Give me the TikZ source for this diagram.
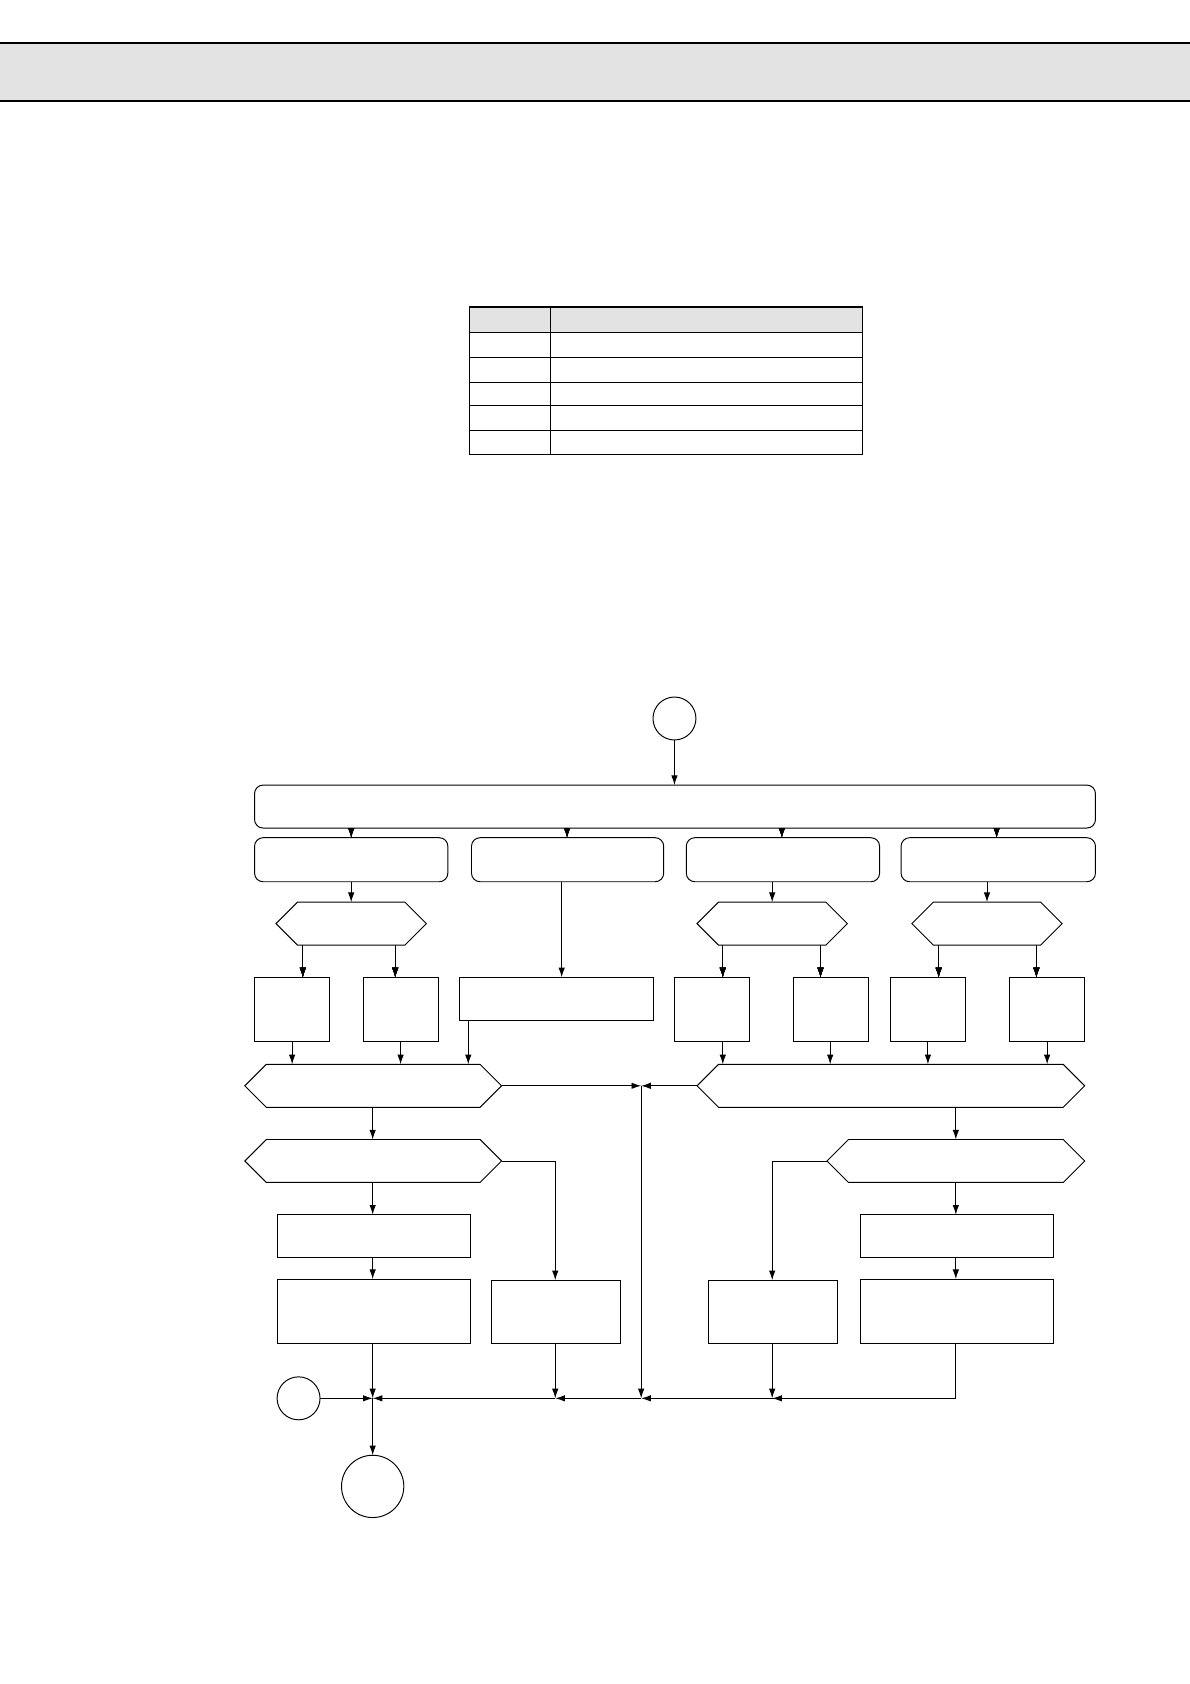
\documentclass[tikz,border=0pt]{standalone}
\usetikzlibrary{arrows.meta}
\tikzset{
 ln/.style={line width=0.9pt},
 ar/.style={ln,-{Latex[length=9pt,width=6pt]}},
 bx/.style={ln,draw},
 rbx/.style={ln,draw,rounded corners=8pt},
}
\newcommand{\hexa}[4]{\draw[ln] (#1,{(#3+#4)/2}) -- (#1+20,#3) -- (#2-20,#3) -- (#2,{(#3+#4)/2}) -- (#2-20,#4) -- (#1+20,#4) -- cycle;}
\newcommand{\rect}[5][bx]{\draw[#1] (#2,#4) rectangle (#3,#5);}
\begin{document}
\begin{tikzpicture}[x=1pt,y=-1pt]
\useasboundingbox (0,0) rectangle (1108,1568);
% header
\fill[gray!22] (0,40) rectangle (1108,94);
\draw[line width=1.3pt] (0,40) -- (1108,40) (0,94) -- (1108,94);
% table
\fill[gray!22] (437,286) rectangle (803,310);
\draw[line width=1.3pt] (437,286) rectangle (803,423);
\draw[ln] (513,286) -- (513,423);
\foreach \y in {310,333,356,378,401} \draw[ln] (437,\y) -- (803,\y);
% start
\draw[ln] (628,669) circle (20);
\draw[ar] (628,689) -- (628,731);
\rect[rbx]{237}{1020}{731}{771}
\foreach \a/\b in {237/417,439/618,639/819,839/1020} \rect[rbx]{\a}{\b}{780}{821}
\foreach \x in {327,528,728,928} \draw[ar] (\x,771) -- (\x,780);
\hexa{257}{397}{840}{880}
\hexa{649}{789}{840}{880}
\hexa{849}{989}{840}{880}
\foreach \x in {327,719,919} \draw[ar] (\x,821) -- (\x,840);
\rect{428}{608}{910}{950}
\draw[ar] (523,821) -- (523,910);
\foreach \a/\b in {237/307,338/408,628/698,739/809,829/899,940/1010} \rect{\a}{\b}{910}{970}
\foreach \x in {282,368,673,764,874,965} \draw[ar] (\x,880) -- (\x,910);
\hexa{228}{467}{991}{1031}
\hexa{649}{1010}{991}{1031}
\foreach \x in {272,373,673,773,864,975} \draw[ar] (\x,970) -- (\x,991);
\draw[ar] (436,950) -- (436,991);
\draw[ar] (467,1011) -- (597,1011);
\draw[ar] (649,1011) -- (597,1011);
\draw[ar] (597,1011) -- (597,1302);
% left column
\draw[ar] (347,1031) -- (347,1061);
\hexa{228}{467}{1061}{1101}
\draw[ar] (467,1081) -- (517,1081) -- (517,1192);
\rect{458}{578}{1192}{1251}
\draw[ar] (347,1101) -- (347,1131);
\rect{258}{438}{1131}{1171}
\draw[ar] (347,1171) -- (347,1191);
\rect{258}{438}{1191}{1251}
% right column
\draw[ar] (890,1031) -- (890,1061);
\hexa{770}{1010}{1061}{1101}
\draw[ar] (770,1081) -- (719,1081) -- (719,1192);
\rect{660}{780}{1192}{1251}
\draw[ar] (890,1101) -- (890,1131);
\rect{801}{981}{1131}{1171}
\draw[ar] (890,1171) -- (890,1191);
\rect{801}{981}{1191}{1251}
% bottom bar
\draw[ln] (890,1251) -- (890,1302) -- (719,1302);
\draw[ar] (890,1302) -- (719,1302);
\draw[ar] (719,1302) -- (597,1302);
\draw[ar] (597,1302) -- (517,1302);
\draw[ar] (517,1302) -- (347,1302);
\draw[ar] (719,1251) -- (719,1302);
\draw[ar] (517,1251) -- (517,1302);
\draw[ar] (347,1251) -- (347,1302);
\draw[ln] (278,1302) circle (20);
\draw[ar] (298,1302) -- (347,1302);
\draw[ar] (347,1302) -- (347,1355);
\draw[ln] (347,1384) circle (29);
\end{tikzpicture}
\end{document}
